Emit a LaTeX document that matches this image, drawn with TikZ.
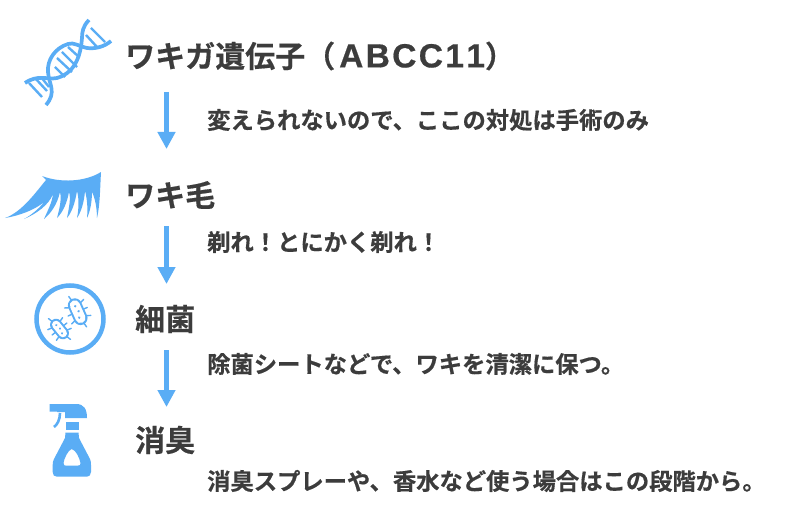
\documentclass[tikz,border=0pt]{standalone}
\usepackage{fontspec}
\newfontfamily\cjk[FakeBold=0.5]{Noto Sans CJK JP Bold}
\newfontfamily\latinhead[LetterSpace=7,FakeBold=0.5,Kerning=Off]{Liberation Sans Bold}
\definecolor{ic}{HTML}{5AADF5}
\definecolor{tx}{HTML}{3C3C3C}
\usetikzlibrary{arrows.meta}
\tikzset{
 head/.style={font=\cjk\fontsize{30}{32}\selectfont,text=tx,anchor=west,inner sep=0pt},
 note/.style={font=\cjk\fontsize{23.3}{26}\selectfont,text=tx,anchor=west,inner sep=0pt},
 flow/.style={line width=5.5pt,draw=ic,-{Triangle[width=17pt,length=17pt,fill=ic]}},
 hel/.style={draw=ic,line width=3.7pt,line cap=butt},
 rung/.style={draw=ic,line width=2.4pt},
 bug/.style={draw=ic,line width=1.4pt,line cap=round}
}
\begin{document}
\begin{tikzpicture}[x=1pt,y=-1pt]
\useasboundingbox (0,0) rectangle (800,508);
\fill[white] (0,0) rectangle (800,508);
% text
\node[head] (h1) at (125,56) {ワキガ遺伝子（\kern4pt{\latinhead\fontsize{33.5}{32}\selectfont ABCC11}）};
\node[head] (h2) at (125,195) {ワキ毛};
\node[head] (h3) at (135,319) {細菌};
\node[head] (h4) at (135,440) {消臭};
\node[note] (n1) at (207,120) {変えられないので、ここの対処は手術のみ};
\node[note] (n2) at (207,242) {剃れ！とにかく剃れ！};
\node[note] (n3) at (207,364) {除菌シートなどで、ワキを清潔に保つ。};
\node[note] (n4) at (207,481) {消臭スプレーや、香水など使う場合はこの段階から。};
% arrows
\coordinate (a1) at (166.5,92); \coordinate (b1) at (166.5,149);
\coordinate (a2) at (166.5,226); \coordinate (b2) at (166.5,284);
\coordinate (a3) at (166.5,350); \coordinate (b3) at (166.5,407);
\draw[flow] (a1)--(b1);
\draw[flow] (a2)--(b2);
\draw[flow] (a3)--(b3);
% DNA
\draw[rung] (91,28)--(105,42) (86,35)--(97,47);
\draw[rung] (68,47)--(79,57) (62,52)--(77,67) (57,58)--(72,72) (55,67)--(65,77);
\draw[rung] (41,77)--(49,87) (35,78)--(47,91) (29,83)--(42,97);
\draw[hel] (89,20) .. controls (83,26) and (82,32) .. (82,38) .. controls (81,50) and (78,72) .. (57,78) .. controls (47,80) and (38,74) .. (25,83);
\draw[hel] (111,41) .. controls (104,47) and (95,49) .. (87,48) .. controls (78,46) and (74,42) .. (68,44) .. controls (55,48) and (47,60) .. (48,72) .. controls (49,85) and (57,92) .. (46,105);
% lash
\fill[ic] (42,176) .. controls (60,183) and (85,182) .. (101,172) .. controls (100,190) and (100,205) .. (97,218)
 .. controls (97,208) and (95,198) .. (92,192) .. controls (92,202) and (90,212) .. (87,218)
 .. controls (88,208) and (87,198) .. (85,191) .. controls (84,203) and (81,212) .. (77,218)
 .. controls (79,208) and (79,198) .. (77,191) .. controls (75,203) and (72,212) .. (67,218)
 .. controls (69,208) and (71,198) .. (69,192) .. controls (67,203) and (63,212) .. (57,218)
 .. controls (59,210) and (62,200) .. (60,192) .. controls (57,205) and (51,213) .. (44,219)
 .. controls (47,212) and (52,203) .. (53,194) .. controls (49,205) and (36,214) .. (24,219)
 .. controls (30,216) and (40,208) .. (44,202) .. controls (35,210) and (18,216) .. (5,218)
 .. controls (22,212) and (36,192) .. (46,180) -- cycle;
% bacteria
\draw[ic,line width=4.5pt] (70,319) circle (33.5);
\begin{scope}[shift={(77.7,311.7)},rotate=24]
\foreach \y in {-7,0,7}{\draw[bug] (-6,\y)--(-10.5,\y*1.25); \draw[bug] (6,\y)--(10.5,\y*1.25);}
\draw[bug] (-1,-13)--(-2,-17.5);
\draw[bug] (1,13)--(2,17.5);
\draw[ic,line width=14pt,line cap=round] (0,-7)--(0,7);
\draw[white,line width=10pt,line cap=round] (0,-7)--(0,7);
\fill[ic] (0,-6) circle (1.3) (1,0) circle (1.3) (-1,6) circle (1.3);
\end{scope}
\begin{scope}[shift={(59.5,329)},rotate=39]
\foreach \y in {-5.5,0,5.5}{\draw[bug] (-5,\y)--(-9.5,\y*1.25); \draw[bug] (5,\y)--(9.5,\y*1.25);}
\draw[bug] (-1,-10.8)--(-2,-15);
\draw[bug] (1,10.8)--(2,15);
\draw[ic,line width=12pt,line cap=round] (0,-5.5)--(0,5.5);
\draw[white,line width=8pt,line cap=round] (0,-5.5)--(0,5.5);
\fill[ic] (0,-5) circle (1.2) (0.7,0) circle (1.2) (-0.7,5) circle (1.2);
\end{scope}
% spray
\fill[ic,even odd rule] (65.5,432.5) -- (78.5,432.5) -- (79,438) -- (90,459) .. controls (91,461) and (91,463) .. (91,465) -- (91,472) .. controls (91,475) and (89,476.7) .. (87,476.7) -- (57,476.7) .. controls (54,476.7) and (52.7,475) .. (52.7,472) -- (52.7,465) .. controls (52.7,463) and (53,461) .. (54,459) -- (65,438) -- cycle
 (71.7,449) .. controls (68,450) and (64,459) .. (63.5,463) .. controls (63,465.7) and (65,465.7) .. (67,465.7) -- (77,465.7) .. controls (80,465.7) and (81,465) .. (80.5,463) .. controls (79.5,458) and (76,450) .. (71.7,449) -- cycle;
\fill[ic] (65.7,422) rectangle (78.5,430);
\fill[ic] (58,404) -- (76,404) .. controls (84,404) and (87,409) .. (87,418) -- (65,418) -- (65,412) -- (57,412) -- (57,411.7) -- (49.5,411.7) -- (49.5,404) -- cycle;
\draw[ic,line width=2.6pt] (60,413) .. controls (60,420) and (57,425) .. (54,427);
\end{tikzpicture}
\end{document}
